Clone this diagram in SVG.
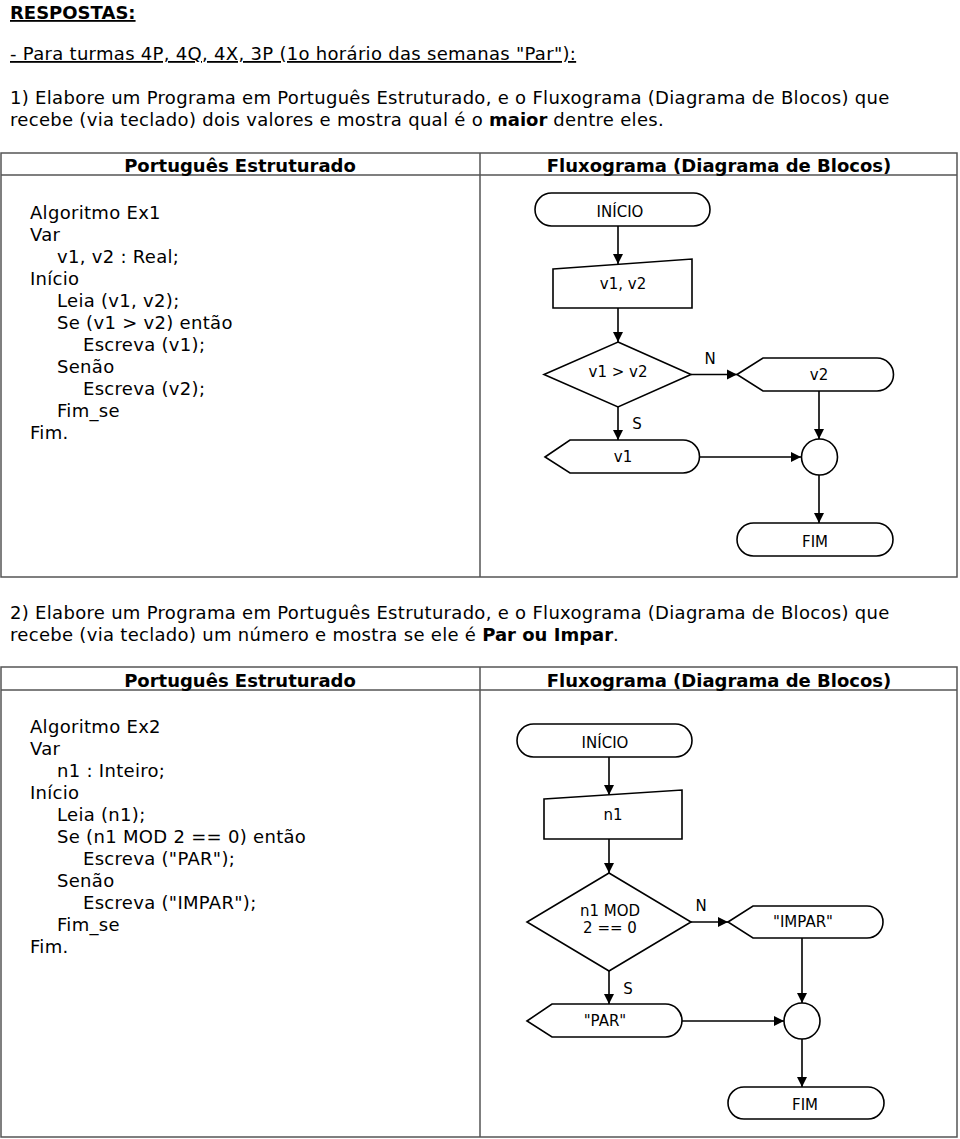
<svg xmlns="http://www.w3.org/2000/svg" width="960" height="1139" viewBox="0 0 960 1139">
<style>
text{font-family:"DejaVu Sans","Verdana",sans-serif;fill:#000}
.t{font-size:18px;letter-spacing:0.3px}
.b{font-weight:bold;letter-spacing:0}
.u{text-decoration:underline}
.fc{font-size:15px;text-anchor:middle}
.grid{fill:none;stroke:#555;stroke-width:1.5}
.shape{fill:#fff;stroke:#000;stroke-width:1.6}
.conn{fill:none;stroke:#000;stroke-width:1.6;marker-end:url(#arr)}
</style>
<defs>
<marker id="arr" viewBox="0 0 10 10" refX="10" refY="5" markerWidth="10" markerHeight="11" markerUnits="userSpaceOnUse" orient="auto">
<path d="M0,0 L10,5 L0,10 Z" fill="#000"/>
</marker>
</defs>
<rect width="960" height="1139" fill="#fff"/>

<g id="intro">
<text class="t b u" x="10" y="19">RESPOSTAS:</text>
<text class="t u" x="10" y="60">- Para turmas 4P, 4Q, 4X, 3P (1o horário das semanas "Par"):</text>
<text class="t" x="10" y="104">1) Elabore um Programa em Português Estruturado, e o Fluxograma (Diagrama de Blocos) que</text>
<text class="t" x="10" y="126">recebe (via teclado) dois valores e mostra qual é o <tspan class="b">maior</tspan> dentre eles.</text>
</g>

<g id="table1">
<rect class="grid" x="1" y="153" width="956" height="424"/>
<line class="grid" x1="1" y1="175" x2="957" y2="175"/>
<line class="grid" x1="480" y1="153" x2="480" y2="577"/>
<text class="t b" x="240" y="172" text-anchor="middle">Português Estruturado</text>
<text class="t b" x="719" y="172" text-anchor="middle">Fluxograma (Diagrama de Blocos)</text>
</g>

<g id="code1">
<text class="t" x="30" y="219">Algoritmo Ex1</text>
<text class="t" x="30" y="241">Var</text>
<text class="t" x="57" y="263">v1, v2 : Real;</text>
<text class="t" x="30" y="285">Início</text>
<text class="t" x="57" y="307">Leia (v1, v2);</text>
<text class="t" x="57" y="329">Se (v1 &gt; v2) então</text>
<text class="t" x="83" y="351">Escreva (v1);</text>
<text class="t" x="57" y="373">Senão</text>
<text class="t" x="83" y="395">Escreva (v2);</text>
<text class="t" x="57" y="417">Fim_se</text>
<text class="t" x="30" y="439">Fim.</text>
</g>

<g id="connectors1">
<line class="conn" x1="618" y1="226" x2="618" y2="264"/>
<line class="conn" x1="618" y1="308" x2="618" y2="342"/>
<line class="conn" x1="691" y1="374.5" x2="737" y2="374.5"/>
<line class="conn" x1="618" y1="407" x2="618" y2="440"/>
<line class="conn" x1="819" y1="391" x2="819" y2="439"/>
<line class="conn" x1="700" y1="457" x2="801" y2="457"/>
<line class="conn" x1="819" y1="475" x2="819" y2="523"/>
<text class="fc" x="710" y="364">N</text>
<text class="fc" x="637" y="429">S</text>
</g>

<g id="f1-inicio">
<rect class="shape" x="535" y="193" width="175" height="33" rx="16.5"/>
<text class="fc" x="620" y="217">INÍCIO</text>
</g>
<g id="f1-leia">
<polygon class="shape" points="553,269 692,259 692,308 553,308"/>
<text class="fc" x="623" y="289">v1, v2</text>
</g>
<g id="f1-decisao">
<polygon class="shape" points="618,342 691,374.5 618,407 544,374.5"/>
<text class="fc" x="618" y="377">v1 &gt; v2</text>
</g>
<g id="f1-v2">
<path class="shape" d="M737,374.5 L763,358 L877,358 A16.5,16.5 0 0 1 877,391 L763,391 Z"/>
<text class="fc" x="819" y="380">v2</text>
</g>
<g id="f1-v1">
<path class="shape" d="M545,457 L570,440 L683,440 A16.5,16.5 0 0 1 683,473 L570,473 Z"/>
<text class="fc" x="623" y="462">v1</text>
</g>
<g id="f1-juncao">
<circle class="shape" cx="819.5" cy="457" r="18"/>
</g>
<g id="f1-fim">
<rect class="shape" x="737" y="523" width="156" height="33" rx="16.5"/>
<text class="fc" x="815" y="547">FIM</text>
</g>

<g id="intro2">
<text class="t" x="10" y="619">2) Elabore um Programa em Português Estruturado, e o Fluxograma (Diagrama de Blocos) que</text>
<text class="t" x="10" y="641">recebe (via teclado) um número e mostra se ele é <tspan class="b">Par ou Impar</tspan>.</text>
</g>

<g id="table2">
<rect class="grid" x="1" y="667" width="956" height="470"/>
<line class="grid" x1="1" y1="690" x2="957" y2="690"/>
<line class="grid" x1="480" y1="667" x2="480" y2="1137"/>
<text class="t b" x="240" y="687" text-anchor="middle">Português Estruturado</text>
<text class="t b" x="719" y="687" text-anchor="middle">Fluxograma (Diagrama de Blocos)</text>
</g>

<g id="code2">
<text class="t" x="30" y="733">Algoritmo Ex2</text>
<text class="t" x="30" y="755">Var</text>
<text class="t" x="57" y="777">n1 : Inteiro;</text>
<text class="t" x="30" y="799">Início</text>
<text class="t" x="57" y="821">Leia (n1);</text>
<text class="t" x="57" y="843">Se (n1 MOD 2 == 0) então</text>
<text class="t" x="83" y="865">Escreva ("PAR");</text>
<text class="t" x="57" y="887">Senão</text>
<text class="t" x="83" y="909">Escreva ("IMPAR");</text>
<text class="t" x="57" y="931">Fim_se</text>
<text class="t" x="30" y="953">Fim.</text>
</g>

<g id="connectors2">
<line class="conn" x1="609" y1="757" x2="609" y2="795"/>
<line class="conn" x1="609" y1="839" x2="609" y2="873"/>
<line class="conn" x1="691" y1="922" x2="728" y2="922"/>
<line class="conn" x1="609" y1="971" x2="609" y2="1004"/>
<line class="conn" x1="802" y1="938" x2="802" y2="1003"/>
<line class="conn" x1="682" y1="1021" x2="784" y2="1021"/>
<line class="conn" x1="802" y1="1039" x2="802" y2="1087"/>
<text class="fc" x="701" y="911">N</text>
<text class="fc" x="628" y="994">S</text>
</g>

<g id="f2-inicio">
<rect class="shape" x="517" y="724" width="175" height="33" rx="16.5"/>
<text class="fc" x="605" y="748">INÍCIO</text>
</g>
<g id="f2-leia">
<polygon class="shape" points="544,799 682,790 682,839 544,839"/>
<text class="fc" x="613" y="820">n1</text>
</g>
<g id="f2-decisao">
<polygon class="shape" points="609,873 691,922 609,971 527,922"/>
<text class="fc" x="610" y="916">n1 MOD</text>
<text class="fc" x="610" y="933">2 == 0</text>
</g>
<g id="f2-impar">
<path class="shape" d="M728,922 L753,906 L867,906 A16,16 0 0 1 867,938 L753,938 Z"/>
<text class="fc" x="803" y="927">"IMPAR"</text>
</g>
<g id="f2-par">
<path class="shape" d="M527,1021 L552,1004 L665.5,1004 A16.5,16.5 0 0 1 665.5,1037 L552,1037 Z"/>
<text class="fc" x="605" y="1026">"PAR"</text>
</g>
<g id="f2-juncao">
<circle class="shape" cx="802" cy="1021" r="18"/>
</g>
<g id="f2-fim">
<rect class="shape" x="728" y="1087" width="156" height="32" rx="16"/>
<text class="fc" x="805" y="1110">FIM</text>
</g>
</svg>
